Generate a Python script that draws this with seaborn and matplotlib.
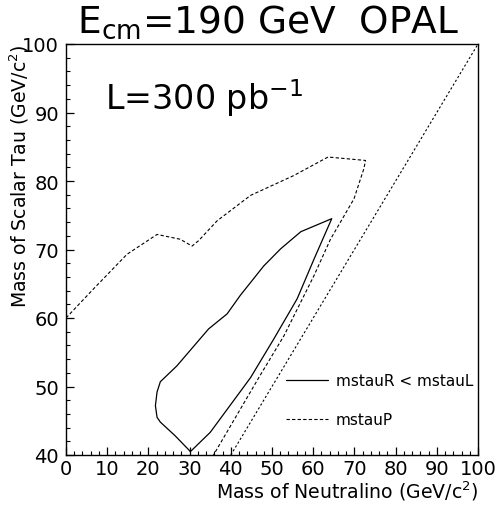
import numpy as np
import pandas as pd
import matplotlib
matplotlib.use("Agg")
import matplotlib.pyplot as plt
import seaborn as sns
from matplotlib.ticker import MultipleLocator

# ---- data ----
solid_x = [30.2, 26.5, 22.9, 22.1, 21.7, 22.1, 22.9, 26.9, 34.6, 39.1, 42.3, 48.0,
           52.1, 57.0, 64.5, 60.2, 56.1, 50.4, 44.8, 35.0, 30.2]
solid_y = [40.5, 42.8, 44.8, 45.5, 47.2, 49.2, 50.7, 53.0, 58.4, 60.6, 63.3, 67.6,
           70.1, 72.6, 74.5, 68.6, 62.8, 56.9, 51.3, 43.3, 40.5]

p_x = [0.0, 6.6, 14.8, 22.1, 27.7, 30.6, 32.2, 36.7, 44.8, 55.3, 63.6, 72.7,
       72.3, 69.9, 64.2, 60.2, 52.9, 46.8, 35.8]
p_y = [60.0, 64.2, 69.3, 72.2, 71.5, 70.5, 71.3, 74.2, 77.9, 80.8, 83.5, 83.0,
       81.8, 77.4, 71.5, 66.2, 57.4, 51.3, 40.0]

diag_x = [40.0, 100.0]
diag_y = [40.0, 100.0]

x_ticks = [0, 10, 20, 30, 40, 50, 60, 70, 80, 90, 100]
y_ticks = [40, 50, 60, 70, 80, 90, 100]

sns.set_style("ticks")
plt.rcParams['font.family'] = ['DejaVu Sans']
plt.rcParams['text.color'] = 'black'
plt.rcParams['axes.labelcolor'] = 'black'
plt.rcParams['xtick.color'] = 'black'
plt.rcParams['ytick.color'] = 'black'
plt.rcParams['axes.edgecolor'] = 'black'

fig = plt.figure(figsize=(4.96, 5.06), dpi=100)
ax = fig.add_axes([66/496, 1-456/506, (478-66)/496, (456-45)/506])

df_s = pd.DataFrame({"x": solid_x, "y": solid_y})
df_p = pd.DataFrame({"x": p_x, "y": p_y})
df_d = pd.DataFrame({"x": diag_x, "y": diag_y})

sns.lineplot(data=df_s, x="x", y="y", sort=False, estimator=None, ax=ax,
             color="black", lw=0.9, label="mstauR < mstauL")
sns.lineplot(data=df_p, x="x", y="y", sort=False, estimator=None, ax=ax,
             color="black", lw=0.8, label="mstauP")
sns.lineplot(data=df_d, x="x", y="y", sort=False, estimator=None, ax=ax,
             color="black", lw=0.8, label="_nolegend_")
ax.lines[1].set_dashes([3, 2])
ax.lines[2].set_dashes([2, 2])

ax.set_xlim(0, 100)
ax.set_ylim(40, 100)
ax.set_xticks(x_ticks)
ax.set_yticks(y_ticks)
ax.xaxis.set_minor_locator(MultipleLocator(2))
ax.yaxis.set_minor_locator(MultipleLocator(2))
ax.tick_params(which="major", direction="in", length=6, width=0.9,
               labelsize=14, top=False, right=False, colors="black")
ax.tick_params(which="minor", direction="in", length=3, width=0.8,
               top=False, right=False, colors="black")
ax.tick_params(axis="x", pad=3)
ax.tick_params(axis="y", pad=5)
for s in ax.spines.values():
    s.set_linewidth(1.0)
    s.set_visible(True)
    s.set_color("black")

ax.set_xlabel("Mass of Neutralino (GeV/c$^{\\mathregular{2}}$)", fontsize=13.6,
              loc="right", labelpad=0)
ax.set_ylabel("Mass of Scalar Tau (GeV/c$^{\\mathregular{2}}$)", fontsize=13.6,
              loc="top")
ax.yaxis.set_label_coords(-0.085, 1.0)

fig.text(0.54, 0.957, "E$_{\\mathregular{cm}}$=190 GeV  OPAL", fontsize=27,
         ha="center", va="center")
ax.text(9.5, 90.5, "L=300 pb$^{\\mathregular{-1}}$", fontsize=24,
        ha="left", va="baseline")

leg = ax.legend(loc="lower right", bbox_to_anchor=(1.01, 0.045), frameon=False,
                fontsize=11, handlelength=2.75, labelspacing=1.6,
                handletextpad=0.52, borderaxespad=0.2)

fig.savefig("out.png", dpi=100)
